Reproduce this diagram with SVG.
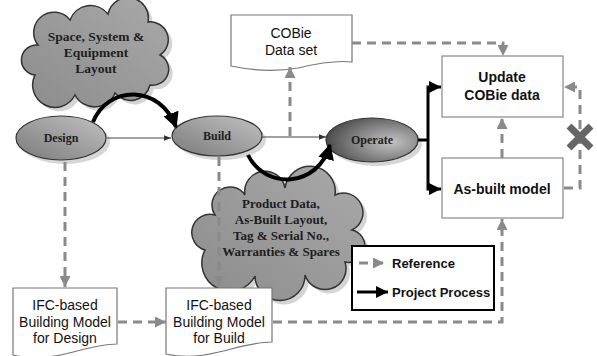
<svg xmlns="http://www.w3.org/2000/svg" width="597" height="356" viewBox="0 0 597 356">
<style>
.ser{font-family:"Liberation Serif","Times New Roman",serif;font-weight:bold;fill:#1e1e1e;text-anchor:middle}
.sans{font-family:"Liberation Sans",Arial,sans-serif;fill:#111;text-anchor:middle;font-size:14px}
.b{font-weight:bold}
.dash{fill:none;stroke:#8a8a8a;stroke-width:3;stroke-dasharray:9 6;marker-end:url(#ga)}
.blk{fill:none;stroke:#000;stroke-width:3}
.doc{fill:#fff;stroke:#777;stroke-width:1.2}
.box{fill:#fff;stroke:#888;stroke-width:1.2}
.cloud{stroke:#333;stroke-width:1.5}
</style>
<defs>
<marker id="ga" viewBox="0 0 10 10" refX="10" refY="5" markerWidth="11" markerHeight="11" markerUnits="userSpaceOnUse" orient="auto"><path d="M0,0 L10,5 L0,10 z" fill="#8a8a8a"/></marker>
<marker id="ka" viewBox="0 0 10 10" refX="10" refY="5" markerWidth="12" markerHeight="12" markerUnits="userSpaceOnUse" orient="auto"><path d="M0,0 L10,5 L0,10 z" fill="#000"/></marker>
<marker id="kb" viewBox="0 0 10 10" refX="9" refY="5" markerWidth="16" markerHeight="16" markerUnits="userSpaceOnUse" orient="auto"><path d="M0,0 L10,5 L0,10 z" fill="#000"/></marker>
<marker id="ta" viewBox="0 0 10 10" refX="10" refY="5" markerWidth="7" markerHeight="7" markerUnits="userSpaceOnUse" orient="auto"><path d="M0,1 L10,5 L0,9 z" fill="#333"/></marker>
<linearGradient id="gEl" x1="0" y1="1" x2="1" y2="0"><stop offset="0" stop-color="#7a7a7a"/><stop offset="1" stop-color="#c2c2c2"/></linearGradient>
<radialGradient id="gOp" cx="0.7" cy="0.55" r="0.75"><stop offset="0" stop-color="#c4c4c4"/><stop offset="1" stop-color="#444"/></radialGradient>
<linearGradient id="gCl" x1="0" y1="1" x2="1" y2="0"><stop offset="0" stop-color="#8c8c8c"/><stop offset="1" stop-color="#a9a9a9"/></linearGradient>
</defs>

<g id="cloud-top">
<path transform="translate(4,4)" fill="#d4d4d4" d="M35 75 A14 14 0 0 1 38 45 A20 20 0 0 1 70 20 A22 22 0 0 1 108 14 A20 20 0 0 1 148 22 A18 18 0 0 1 160 55 A16 16 0 0 1 150 85 A20 20 0 0 1 115 93 A22 22 0 0 1 75 95 A18 18 0 0 1 35 75 Z"/>
<path class="cloud" fill="url(#gCl)" d="M35 75 A14 14 0 0 1 38 45 A20 20 0 0 1 70 20 A22 22 0 0 1 108 14 A20 20 0 0 1 148 22 A18 18 0 0 1 160 55 A16 16 0 0 1 150 85 A20 20 0 0 1 115 93 A22 22 0 0 1 75 95 A18 18 0 0 1 35 75 Z"/>
<text class="ser" font-size="13.5" x="96" y="41">Space, System &amp;</text>
<text class="ser" font-size="13.5" x="96" y="57">Equipment</text>
<text class="ser" font-size="13.5" x="96" y="73">Layout</text>
</g>

<g id="cloud-product">
<path transform="translate(4,4)" fill="#d4d4d4" d="M205 250 A14 14 0 0 1 215 215 A18 18 0 0 1 245 195 A20 20 0 0 1 285 188 A22 22 0 0 1 335 195 A18 18 0 0 1 352 230 A16 16 0 0 1 345 262 A20 20 0 0 1 305 275 A22 22 0 0 1 255 276 A18 18 0 0 1 205 250 Z"/>
<path class="cloud" fill="url(#gCl)" d="M205 250 A14 14 0 0 1 215 215 A18 18 0 0 1 245 195 A20 20 0 0 1 285 188 A22 22 0 0 1 335 195 A18 18 0 0 1 352 230 A16 16 0 0 1 345 262 A20 20 0 0 1 305 275 A22 22 0 0 1 255 276 A18 18 0 0 1 205 250 Z"/>
<text class="ser" font-size="13" x="281" y="208">Product Data,</text>
<text class="ser" font-size="13" x="281" y="224">As-Built Layout,</text>
<text class="ser" font-size="13" x="281" y="240">Tag &amp; Serial No.,</text>
<text class="ser" font-size="13" x="281" y="256">Warranties &amp; Spares</text>
</g>

<g id="design">
<ellipse cx="65" cy="142" rx="45" ry="22" fill="#d6d6d6"/>
<ellipse cx="61" cy="138" rx="45" ry="22" fill="url(#gEl)" stroke="#333" stroke-width="1.2"/>
<text class="ser" font-size="12" x="61" y="142">Design</text>
</g>
<g id="build">
<ellipse cx="221" cy="140" rx="45" ry="20" fill="#d6d6d6"/>
<ellipse cx="217" cy="136" rx="45" ry="20" fill="url(#gEl)" stroke="#333" stroke-width="1.2"/>
<text class="ser" font-size="12" x="217" y="140">Build</text>
</g>
<g id="operate">
<ellipse cx="376" cy="144" rx="46" ry="22" fill="#d6d6d6"/>
<ellipse cx="372" cy="140" rx="46" ry="22" fill="url(#gOp)" stroke="#333" stroke-width="1.2"/>
<text class="ser" font-size="12" x="372" y="144">Operate</text>
</g>

<g id="cobie-dataset">
<path class="doc" d="M231 15 H352 V62 C335 60 315 64 298 68 C275 72 250 70 231 66 Z"/>
<text class="sans" x="291" y="38">COBie</text>
<text class="sans" x="291" y="55">Data set</text>
</g>
<g id="update-cobie">
<rect class="box" x="442" y="56" width="121" height="61"/>
<text class="sans b" x="502" y="82">Update</text>
<text class="sans b" x="502" y="100">COBie data</text>
</g>
<g id="asbuilt">
<rect class="box" x="442" y="158" width="121" height="60"/>
<text class="sans b" x="502" y="194">As-built model</text>
</g>
<g id="ifc-design">
<path class="doc" d="M13 288 H117 V344 C100 344 82 350 65 354 C45 359 25 358 13 355 Z"/>
<text class="sans" x="65" y="310">IFC-based</text>
<text class="sans" x="65" y="327">Building Model</text>
<text class="sans" x="65" y="343">for Design</text>
</g>
<g id="ifc-build">
<path class="doc" d="M166 288 H272 V342 C255 342 236 348 219 352 C199 357 179 357 166 354 Z"/>
<text class="sans" x="219" y="310">IFC-based</text>
<text class="sans" x="219" y="327">Building Model</text>
<text class="sans" x="219" y="343">for Build</text>
</g>

<g id="legend">
<rect x="352" y="246" width="142" height="64" fill="#fff" stroke="#000" stroke-width="2"/>
<path class="dash" d="M359 263 H384" stroke-dasharray="8 5"/>
<text class="sans b" x="392" y="268" style="text-anchor:start;font-size:13px">Reference</text>
<path class="blk" d="M357 292 H388" marker-end="url(#ka)"/>
<text class="sans b" x="392" y="297" style="text-anchor:start;font-size:13px">Project Process</text>
</g>

<g id="connectors">
<path d="M107 138 H171" stroke="#444" stroke-width="1.2" fill="none" marker-end="url(#ta)"/>
<path d="M262 137 H326" stroke="#444" stroke-width="1.2" fill="none" marker-end="url(#ta)"/>
<path d="M93 122 C108 85 160 84 176 127" fill="none" stroke="#000" stroke-width="4" marker-end="url(#kb)"/>
<path d="M248 155 C265 190 318 188 330 145" fill="none" stroke="#000" stroke-width="4" marker-end="url(#kb)"/>
<path class="dash" d="M65 162 V287"/>
<path class="dash" d="M219 157 V287"/>
<path class="dash" d="M290 136 V67"/>
<path class="dash" d="M352 43 H503 V56"/>
<path class="dash" d="M118 322 H166"/>
<path class="dash" d="M273 322 H502 V219"/>
<path class="dash" d="M502 158 V118"/>
<path class="dash" d="M564 188 H580 V87 H564"/>
<path class="blk" d="M418 140 H428"/>
<path class="blk" d="M428 140 V87 H441" marker-end="url(#ka)"/>
<path class="blk" d="M428 140 V189 H441" marker-end="url(#ka)"/>
<path d="M569 126 L591 148 M591 126 L569 148" stroke="#666" stroke-width="7" stroke-linecap="butt"/>
</g>
</svg>
